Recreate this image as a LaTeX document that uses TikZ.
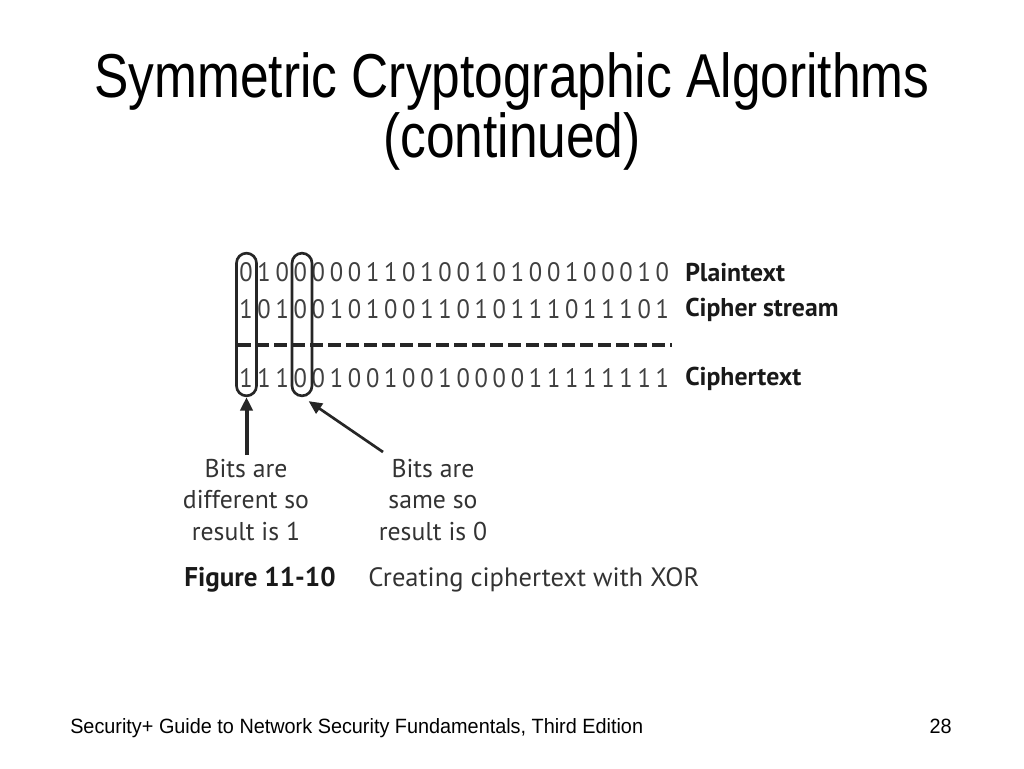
\documentclass[tikz,border=0pt]{standalone}
\usepackage{fontspec}
\setmainfont{Liberation Sans}
\newfontfamily\figfont{PT Sans}
\usetikzlibrary{arrows.meta}

\begin{document}
\begin{tikzpicture}[
    x=0.75pt,
    y=-0.75pt,
    title/.style={
        anchor=base,
        inner sep=0pt,
        align=center,
        xscale=0.83,
        font=\fontsize{46.5}{42}\selectfont
    },
    footer/.style={
        anchor=base west,
        inner sep=0pt,
        xscale=0.96,
        font=\fontsize{15.5}{15.5}\selectfont
    },
    bit/.style={
        inner sep=0pt,
        xscale=0.92,
        text=black!75,
        font=\figfont\fontsize{20}{20}\selectfont
    },
    rowlabel/.style={
        anchor=west,
        inner sep=0pt,
        text=black!90,
        font=\figfont\bfseries\fontsize{19.3}{19.3}\selectfont
    },
    note/.style={
        align=center,
        inner sep=0pt,
        text=black!80,
        font=\figfont\fontsize{19.3}{23.6}\selectfont
    },
    oval/.style={
        draw=black!85,
        line width=2pt,
        rounded corners=7.5pt,
        minimum width=15pt,
        minimum height=107pt,
        inner sep=0pt
    },
    pointer/.style={-{Triangle[length=10pt,width=9pt]}, draw=black!85}
]

\useasboundingbox[fill=white] (0,0) rectangle (1024,768);

\node[title] (head) at (512,157) {Symmetric Cryptographic Algorithms\\(continued)};

\foreach \b [count=\i] in {0,1,0,0,0,0,0,1,1,0,1,0,0,1,0,1,0,0,1,0,0,0,1,0}
    \node[bit] (p\i) at ({227.9+18.1*\i},272) {\b};
\foreach \b [count=\i] in {1,0,1,0,0,1,0,1,0,0,1,1,0,1,0,1,1,1,0,1,1,1,0,1}
    \node[bit] (c\i) at ({227.9+18.1*\i},309) {\b};
\foreach \b [count=\i] in {1,1,1,0,0,1,0,0,1,0,0,1,0,0,0,0,1,1,1,1,1,1,1,1}
    \node[bit] (r\i) at ({227.9+18.1*\i},378) {\b};

\node[rowlabel] (plain) at (685,273) {Plaintext};
\node[rowlabel] (stream) at (685,310) {Cipher stream};
\node[rowlabel] (cipher) at (685,379) {Ciphertext};

\coordinate (rulestart) at (238,345);
\coordinate (ruleend) at (672,345);
\draw[line width=3.2pt, draw=black!85, dash pattern=on 9.5pt off 4pt] (rulestart) -- (ruleend);

\node[oval] (diffbox) at (246.5,324.5) {};
\node[oval] (samebox) at (302,324.5) {};

\node[note] (diffnote) at (246,500) {Bits are\\different so\\result is 1};
\node[note] (samenote) at (433,500) {Bits are\\same so\\result is 0};

\draw[pointer, line width=3pt] (246.5,455) -- (diffbox.south);
\draw[pointer, line width=2pt] (383,452) -- ([xshift=5pt,yshift=-3pt]samebox.south);

\node[anchor=base west, inner sep=0pt, text=black!90, font=\figfont\bfseries\fontsize{20.3}{20.3}\selectfont] (fignum) at (184,586) {Figure 11-10};
\node[anchor=base west, inner sep=0pt, text=black!80, font=\figfont\fontsize{19.9}{19.9}\selectfont] (figcap) at (368,586) {Creating ciphertext with XOR};

\node[footer] (book) at (70,733) {Security+ Guide to Network Security Fundamentals, Third Edition};
\node[footer, anchor=base east] (page) at (952,733) {28};

\end{tikzpicture}
\end{document}
